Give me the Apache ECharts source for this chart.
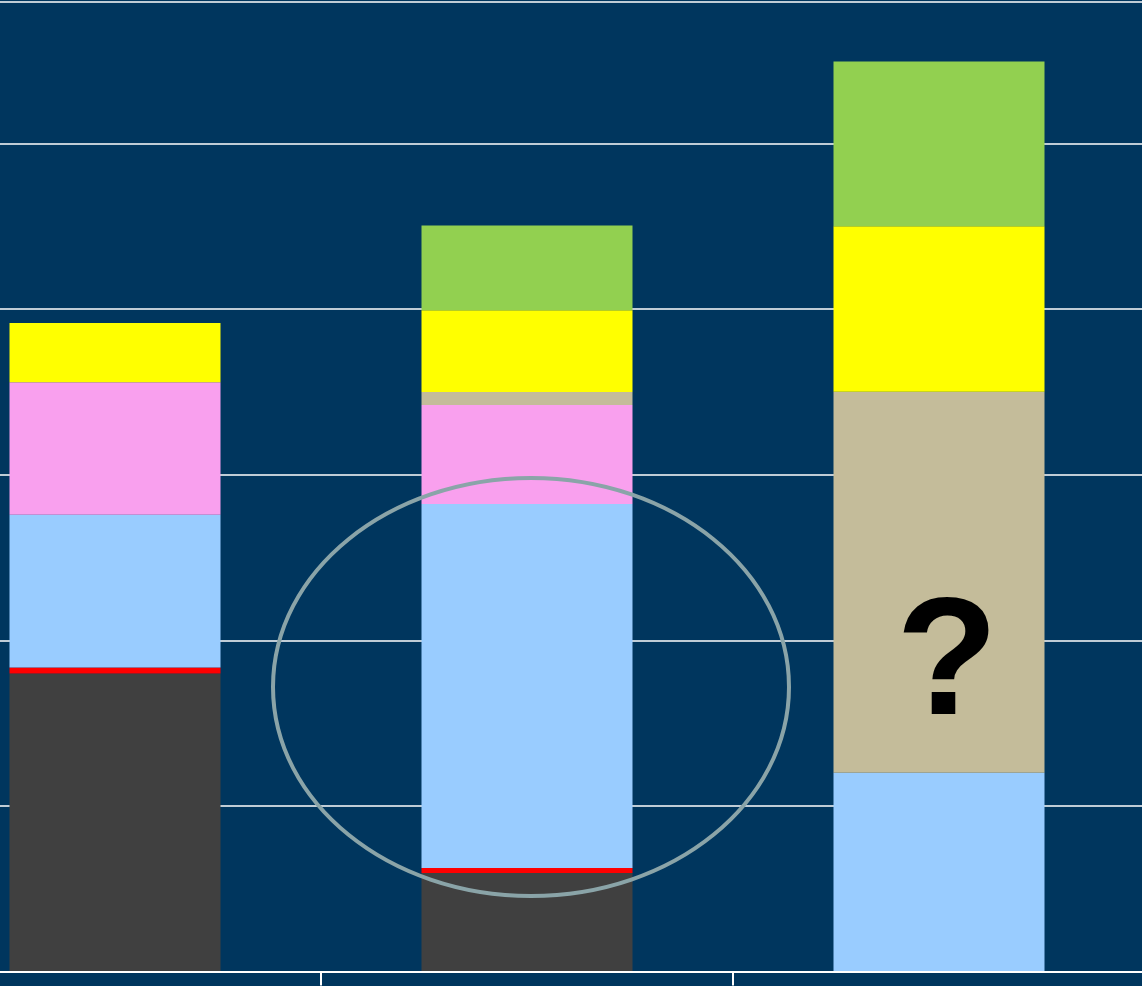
<!DOCTYPE html>
<html>
<head>
<meta charset="utf-8">
<script src="https://cdn.jsdelivr.net/npm/echarts@6/dist/echarts.min.js"></script>
<style>html,body{margin:0;padding:0;background:#fff;}#c{width:1142px;height:986px;}</style>
</head>
<body>
<div id="c"></div>
<script>
var categories = ['A', 'B', 'C'];
var seriesNames = ['gray', 'red', 'blue', 'pink', 'tan', 'yellow', 'green'];
var grayVals   = [1.80, 0.595, 0];
var redVals    = [0.036, 0.03, 0];
var blueVals   = [0.922, 2.198, 1.20];
var pinkVals   = [0.80, 0.598, 0];
var tanVals    = [0, 0.078, 2.30];
var yellowVals = [0.358, 0.494, 1.00];
var greenVals  = [0, 0.511, 0.994];
var yTicks = [0, 1, 2, 3, 4, 5];

var colors = ['#404040', '#ff0000', '#99ccff', '#f9a0ee', '#c4bc9a', '#ffff00', '#92d050'];
var dataSets = [grayVals, redVals, blueVals, pinkVals, tanVals, yellowVals, greenVals];

var chart = echarts.init(document.getElementById('c'), null, {renderer: 'canvas'});
var series = dataSets.map(function (d, i) {
  return {
    name: seriesNames[i],
    type: 'bar',
    stack: 'total',
    barWidth: 211,
    data: d,
    itemStyle: {color: colors[i]},
    emphasis: {disabled: true},
    silent: true
  };
});

chart.setOption({
  backgroundColor: '#00365e',
  animation: false,
  grid: {left: -91, right: -3, top: 2, bottom: 14.5, containLabel: false, outerBoundsMode: 'none'},
  xAxis: {
    type: 'category',
    data: categories,
    boundaryGap: true,
    axisLine: {show: true, lineStyle: {color: '#ffffff', width: 2}},
    axisTick: {show: true, length: 14, lineStyle: {color: '#ffffff', width: 2}},
    axisLabel: {show: false},
    z: 10
  },
  yAxis: {
    type: 'value',
    min: yTicks[0],
    max: 5.854,
    interval: 1,
    axisLine: {show: false},
    axisTick: {show: false},
    axisLabel: {show: false},
    splitLine: {show: true, lineStyle: {color: '#ffffff', width: 1.5}}
  },
  series: series,
  graphic: [
    {
      type: 'ellipse',
      shape: {cx: 531, cy: 687, rx: 258, ry: 209},
      style: {fill: 'none', stroke: '#8aa4a8', lineWidth: 4},
      z: 100
    },
    {
      type: 'text',
      x: 947,
      y: 668,
      style: {
        text: '?',
        fill: '#000000',
        font: 'bold 167px "Liberation Sans", Arial, sans-serif',
        textAlign: 'center',
        textVerticalAlign: 'middle'
      },
      z: 100
    }
  ]
});
</script>
</body>
</html>
